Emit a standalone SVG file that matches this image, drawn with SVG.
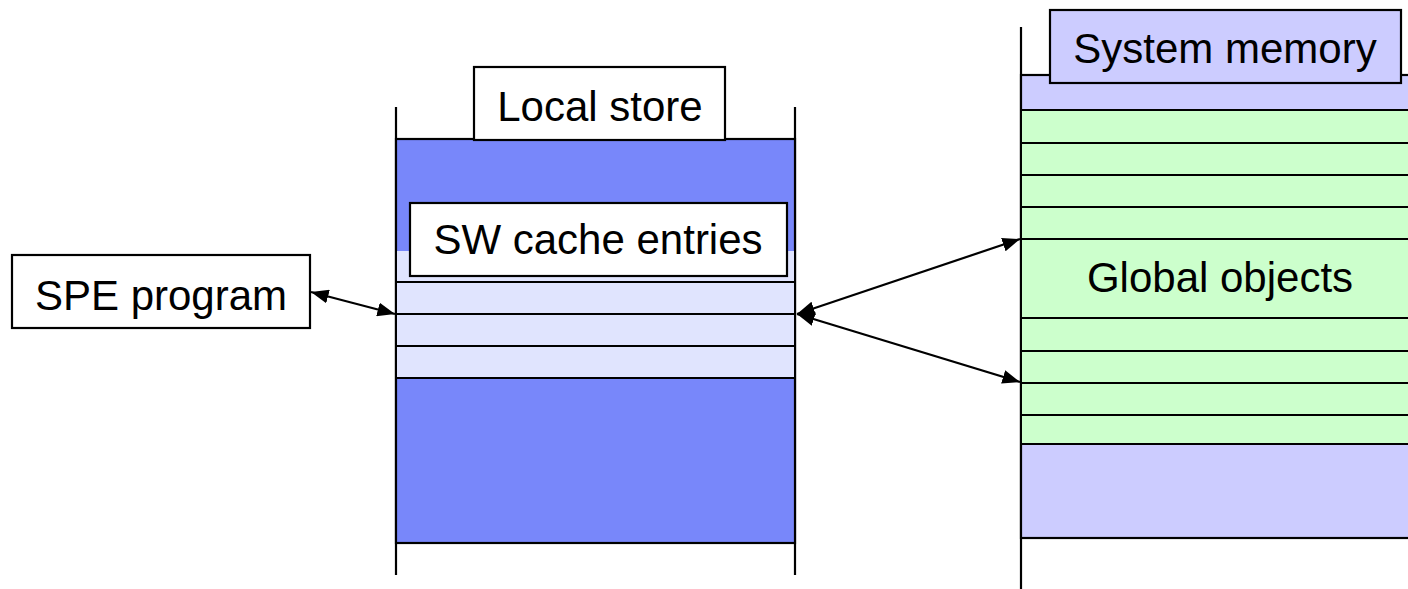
<svg xmlns="http://www.w3.org/2000/svg" width="1408" height="589" viewBox="0 0 1408 589">
<style>
  .txt { font-family: "Liberation Sans", Arial, sans-serif; font-size: 42px; fill: #000; text-anchor: middle; }
  .ln { stroke: #000; stroke-width: 2.2; fill: none; }
  .box { fill: #fff; stroke: #000; stroke-width: 2.2; }
  .conn { stroke: #000; stroke-width: 2.2; fill: none; marker-start: url(#ah); marker-end: url(#ah); }
</style>
<defs>
  <marker id="ah" viewBox="0 0 10 8" refX="10" refY="4" markerWidth="8" markerHeight="6.4" orient="auto-start-reverse" markerUnits="strokeWidth">
    <path d="M0,0 L10,4 L0,8 z" fill="#000"/>
  </marker>
</defs>
<rect width="1408" height="589" fill="#fff"/>

<g id="local-store">
  <line class="ln" x1="396" y1="107" x2="396" y2="575"/>
  <line class="ln" x1="795" y1="107" x2="795" y2="575"/>
  <rect x="396" y="139" width="399" height="404" fill="#7887FA" stroke="#000" stroke-width="2.2"/>
  <rect x="397" y="251" width="397" height="127" fill="#E0E4FE"/>
  <line class="ln" x1="396" y1="282" x2="795" y2="282"/>
  <line class="ln" x1="396" y1="314" x2="795" y2="314"/>
  <line class="ln" x1="396" y1="346" x2="795" y2="346"/>
  <line class="ln" x1="396" y1="378" x2="795" y2="378"/>
  <rect class="box" x="474" y="67" width="251" height="73"/>
  <text class="txt" x="600" y="121">Local store</text>
</g>

<g id="sw-cache-entries">
  <rect class="box" x="410" y="203" width="377" height="73"/>
  <text class="txt" x="598" y="254">SW cache entries</text>
</g>

<g id="spe-program">
  <rect class="box" x="12" y="255" width="298" height="73"/>
  <text class="txt" x="161" y="310">SPE program</text>
</g>

<g id="system-memory">
  <line class="ln" x1="1021" y1="27" x2="1021" y2="589"/>
  <rect x="1021" y="75" width="400" height="463" fill="#CCCCFF" stroke="#000" stroke-width="2.2"/>
  <rect x="1022" y="110" width="400" height="334" fill="#CCFFCC"/>
  <line class="ln" x1="1021" y1="110" x2="1408" y2="110"/>
  <line class="ln" x1="1021" y1="143" x2="1408" y2="143"/>
  <line class="ln" x1="1021" y1="175" x2="1408" y2="175"/>
  <line class="ln" x1="1021" y1="207" x2="1408" y2="207"/>
  <line class="ln" x1="1021" y1="239" x2="1408" y2="239"/>
  <line class="ln" x1="1021" y1="318" x2="1408" y2="318"/>
  <line class="ln" x1="1021" y1="351" x2="1408" y2="351"/>
  <line class="ln" x1="1021" y1="383" x2="1408" y2="383"/>
  <line class="ln" x1="1021" y1="415" x2="1408" y2="415"/>
  <line class="ln" x1="1021" y1="444" x2="1408" y2="444"/>
  <text class="txt" x="1220" y="292">Global objects</text>
  <rect x="1050" y="10" width="351" height="73" fill="#CCCCFF" stroke="#000" stroke-width="2.2"/>
  <text class="txt" x="1225" y="63">System memory</text>
</g>

<g id="connectors">
  <line class="conn" x1="311" y1="292" x2="395" y2="314"/>
  <line class="conn" x1="797" y1="314" x2="1020" y2="239"/>
  <line class="conn" x1="797" y1="314" x2="1020" y2="382"/>
</g>
</svg>
